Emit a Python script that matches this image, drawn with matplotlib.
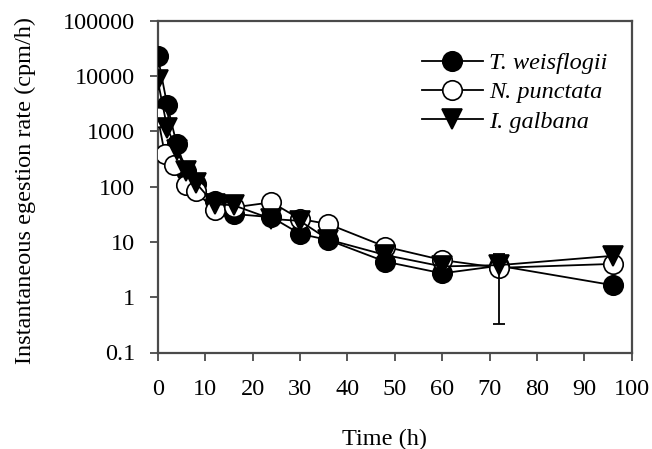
import matplotlib
matplotlib.use("Agg")
import matplotlib.pyplot as plt
from matplotlib.ticker import FixedLocator, NullLocator

# ---- data ----
t_weis = [0, 2, 4, 6, 8, 12, 16, 24, 30, 36, 48, 60, 72, 96]
v_weis = [23000, 3000, 590, 190, 112, 55, 32, 28, 14, 10.8, 4.4, 2.7, 3.7, 1.65]

t_punc = [0, 1.5, 3.5, 6, 8, 12, 16, 24, 30, 36, 48, 60, 72, 96]
v_punc = [1830, 390, 250, 105, 82, 38, 42, 52, 26, 21, 8.2, 4.7, 3.4, 4.0]

t_galb = [0, 2, 4, 6, 8, 12, 16, 24, 30, 36, 48, 60, 72, 96]
v_galb = [8400, 1160, 460, 190, 118, 48, 46, 26, 24, 11, 5.8, 3.6, 3.8, 5.6]

# single visible error bar (I. galbana, 72 h)
err_t = [72]
err_v = [3.8]
err_lo = [3.47]
err_hi = [2.3]

series_names = ["T. weisflogii", "N. punctata", "I. galbana"]
x_ticks = [0, 10, 20, 30, 40, 50, 60, 70, 80, 90, 100]
y_ticks = [0.1, 1, 10, 100, 1000, 10000, 100000]
y_ticklabels = ["0.1", "1", "10", "100", "1000", "10000", "100000"]

plt.rcParams["font.family"] = ["Liberation Serif", "DejaVu Serif"]
FS = 17.5

fig = plt.figure(figsize=(6.52, 4.49), dpi=100)
ax = fig.add_axes([157.7 / 652, 1 - 352.5 / 449, 474 / 652, 331.8 / 449])

ms = 14
lw = 1.3
ax.plot(t_weis, v_weis, "-o", color="black", mfc="black", mec="black",
        ms=ms, lw=lw, mew=1.2, label=series_names[0], zorder=3)
ax.plot(t_punc, v_punc, "-o", color="black", mfc="white", mec="black",
        ms=ms, lw=lw, mew=1.2, label=series_names[1], zorder=4)
ax.errorbar(err_t, err_v, yerr=[err_lo, err_hi], fmt="none", ecolor="black",
            elinewidth=1.3, capsize=4, capthick=1.3, zorder=4.5)
ax.plot(t_galb, v_galb, "-v", color="black", mfc="black", mec="black",
        ms=ms, lw=lw, mew=1.2, label=series_names[2], zorder=5)

ax.set_yscale("log")
ax.set_xlim(0, 100)
ax.set_ylim(0.1, 100000)
ax.xaxis.set_major_locator(FixedLocator(x_ticks))
ax.yaxis.set_major_locator(FixedLocator(y_ticks))
ax.yaxis.set_minor_locator(NullLocator())
ax.set_yticklabels(y_ticklabels)
ax.set_xticklabels([str(v) for v in x_ticks])

for s in ax.spines.values():
    s.set_color("#4a4a4a")
    s.set_linewidth(1.6)

ax.tick_params(axis="y", which="major", direction="out", length=6, width=1.3,
               color="#4a4a4a", labelsize=FS, pad=10)
ax.tick_params(axis="x", which="major", direction="out", length=6, width=1.3,
               color="#4a4a4a", labelsize=FS, pad=13)

fig.text(25 / 652, 1 - 190 / 449, "Instantaneous egestion rate (cpm/h)",
         rotation=90, ha="center", va="center", fontsize=FS)
fig.text(385 / 652, 1 - 439 / 449, "Time (h)", ha="center", va="center",
         fontsize=FS)

leg = ax.legend(loc="upper left", bbox_to_anchor=(422 / 652, 1 - 52 / 449),
                bbox_transform=fig.transFigure, frameon=False,
                prop={"family": ["Liberation Serif"], "style": "italic", "size": FS},
                handlelength=2.5, handletextpad=0.25, labelspacing=0.3,
                borderpad=0, borderaxespad=0)

fig.savefig("out.png", dpi=100)
